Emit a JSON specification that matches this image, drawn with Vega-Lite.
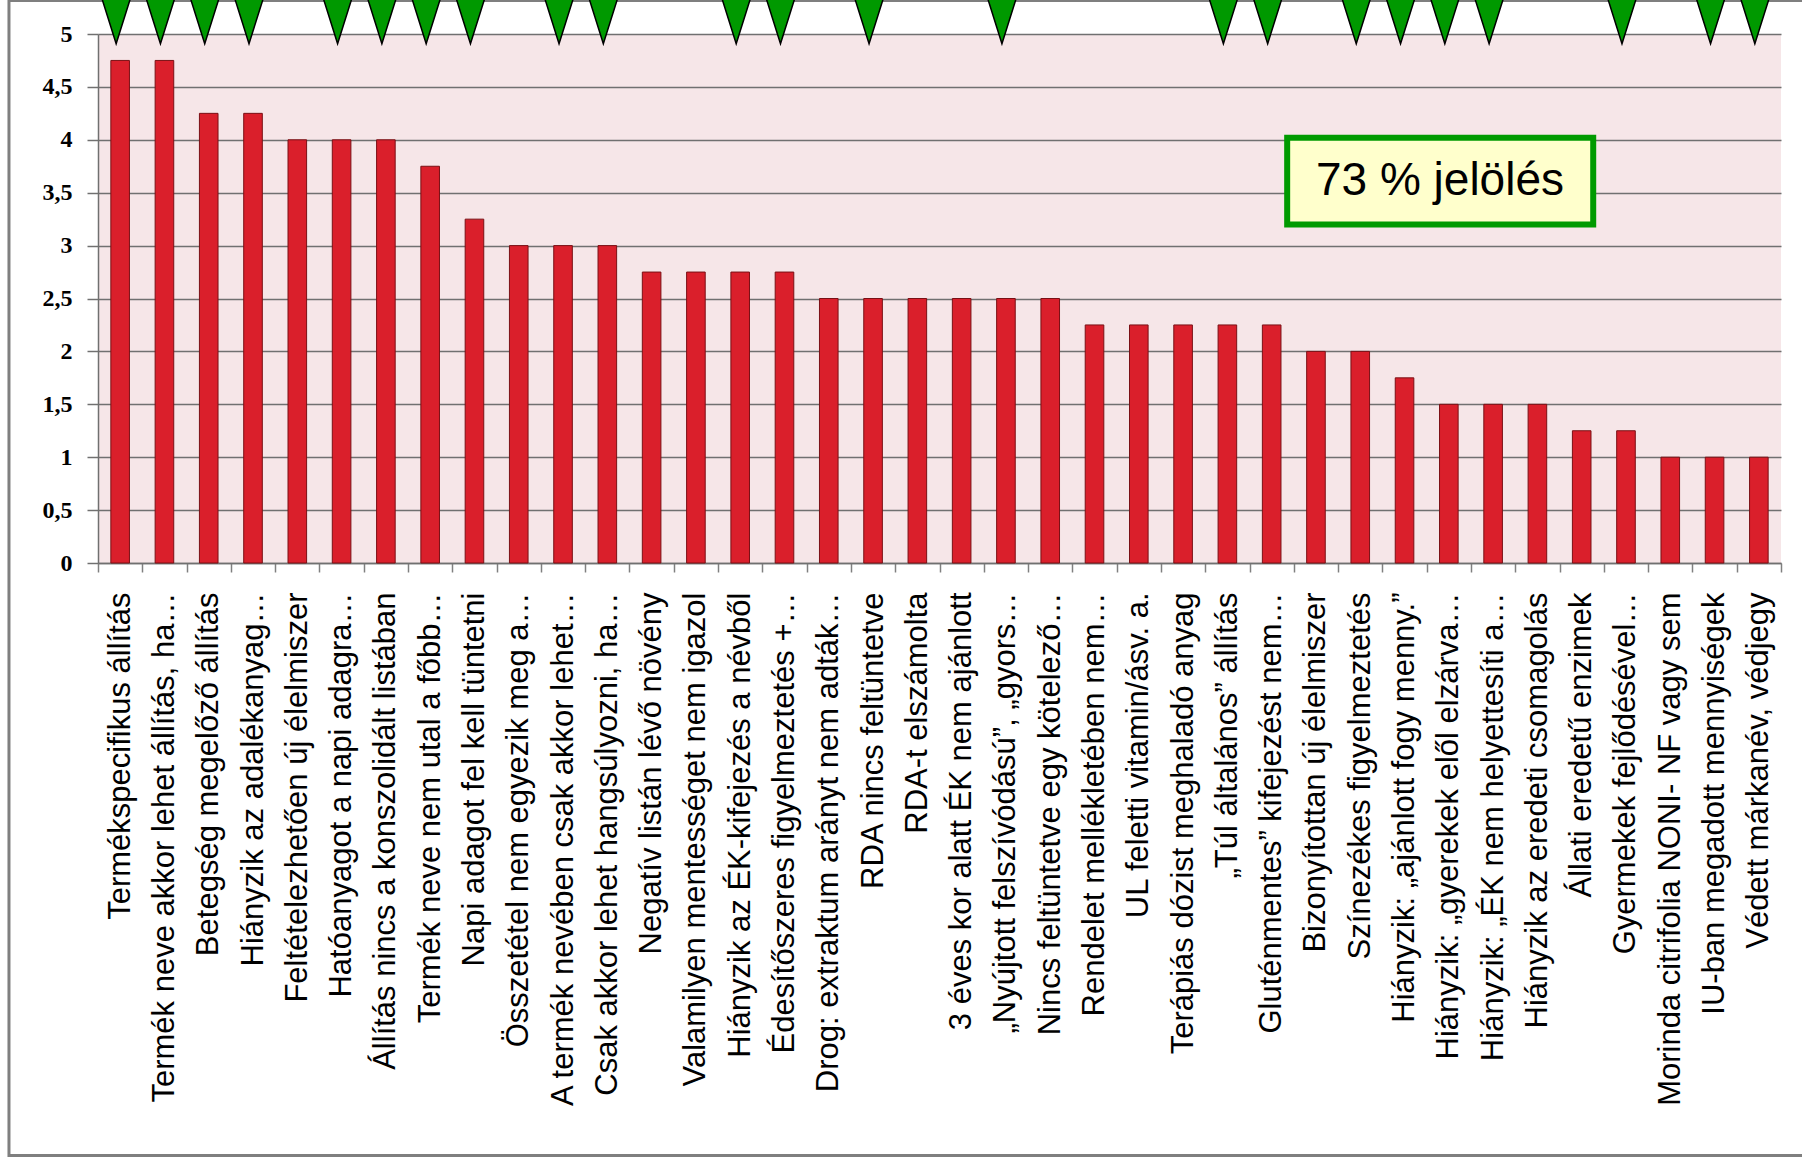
{
  "$schema": "https://vega.github.io/schema/vega-lite/v6.json",
  "width": 1683,
  "height": 529,
  "padding": {"left": 98, "top": 34, "right": 21, "bottom": 599},
  "autosize": {"type": "none"},
  "background": "#ffffff",
  "config": {"view": {"fill": "#F6E6E8", "stroke": null}},
  "datasets": {
    "rows": [
      {"label": "Termékspecifikus állítás", "value": 4.75, "marked": true},
      {"label": "Termék neve akkor lehet állítás, ha…", "value": 4.75, "marked": true},
      {"label": "Betegség megelőző állítás", "value": 4.25, "marked": true},
      {"label": "Hiányzik az adalékanyag…", "value": 4.25, "marked": true},
      {"label": "Feltételezhetően új élelmiszer", "value": 4, "marked": false},
      {"label": "Hatóanyagot a napi adagra…", "value": 4, "marked": true},
      {"label": "Állítás nincs a konszolidált listában", "value": 4, "marked": true},
      {"label": "Termék neve nem utal a főbb…", "value": 3.75, "marked": true},
      {"label": "Napi adagot fel kell tüntetni", "value": 3.25, "marked": true},
      {"label": "Összetétel nem egyezik meg a…", "value": 3, "marked": false},
      {"label": "A termék nevében csak akkor lehet…", "value": 3, "marked": true},
      {"label": "Csak akkor lehet hangsúlyozni, ha…", "value": 3, "marked": true},
      {"label": "Negatív listán lévő növény", "value": 2.75, "marked": false},
      {"label": "Valamilyen mentességet nem igazol", "value": 2.75, "marked": false},
      {"label": "Hiányzik az ÉK-kifejezés a névből", "value": 2.75, "marked": true},
      {"label": "Édesítőszeres figyelmeztetés +…", "value": 2.75, "marked": true},
      {"label": "Drog: extraktum arányt nem adták…", "value": 2.5, "marked": false},
      {"label": "RDA nincs feltüntetve", "value": 2.5, "marked": true},
      {"label": "RDA-t elszámolta", "value": 2.5, "marked": false},
      {"label": "3 éves kor alatt ÉK nem ajánlott", "value": 2.5, "marked": false},
      {"label": "„Nyújtott felszívódású”, „gyors…", "value": 2.5, "marked": true},
      {"label": "Nincs feltüntetve egy kötelező…", "value": 2.5, "marked": false},
      {"label": "Rendelet mellékletében nem…", "value": 2.25, "marked": false},
      {"label": "UL feletti vitamin/ásv. a.", "value": 2.25, "marked": false},
      {"label": "Terápiás dózist meghaladó anyag", "value": 2.25, "marked": false},
      {"label": "„Túl általános” állítás", "value": 2.25, "marked": true},
      {"label": "Gluténmentes” kifejezést nem…", "value": 2.25, "marked": true},
      {"label": "Bizonyítottan új élelmiszer", "value": 2, "marked": false},
      {"label": "Színezékes figyelmeztetés", "value": 2, "marked": true},
      {"label": "Hiányzik: „ajánlott fogy menny.”", "value": 1.75, "marked": true},
      {"label": "Hiányzik: „gyerekek elől elzárva…", "value": 1.5, "marked": true},
      {"label": "Hiányzik: „ÉK nem helyettesíti a…", "value": 1.5, "marked": true},
      {"label": "Hiányzik az eredeti csomagolás", "value": 1.5, "marked": false},
      {"label": "Állati eredetű enzimek", "value": 1.25, "marked": false},
      {"label": "Gyermekek fejlődésével…", "value": 1.25, "marked": true},
      {"label": "Morinda citrifolia NONI- NF vagy sem", "value": 1, "marked": false},
      {"label": "IU-ban megadott mennyiségek", "value": 1, "marked": true},
      {"label": "Védett márkanév, védjegy", "value": 1, "marked": true}
    ],
    "note": [{"note": "73 % jelölés"}]
  },
  "layer": [
    {
      "data": {"name": "note"},
      "mark": {"type": "rect", "filled": false, "stroke": "#7F7F7F", "strokeWidth": 3},
      "encoding": {
        "x": {"datum": -2.01, "type": "quantitative", "scale": {"domain": [0, 38], "nice": false, "zero": false}, "axis": null},
        "x2": {"datum": 38.65},
        "y": {"datum": 5.317, "type": "quantitative", "scale": {"domain": [0, 5], "nice": false, "zero": true}},
        "y2": {"datum": -5.6}
      }
    },
    {
      "data": {"name": "rows"},
      "encoding": {
        "x": {
          "field": "label", "type": "nominal", "sort": null,
          "scale": {"paddingInner": 0, "paddingOuter": 0},
          "axis": {
            "title": null, "labelAngle": -90, "labelFont": "Liberation Sans", "labelFontSize": 31,
            "labelColor": "#000000", "labelLimit": 700, "labelOverlap": false, "labelPadding": 20,
            "tickBand": "extent", "tickSize": 9, "tickColor": "#808080", "tickWidth": 1.5,
            "domainColor": "#707070", "domainWidth": 1.5
          }
        }
      },
      "layer": [
        {
          "mark": {"type": "bar", "width": {"band": 0.42}, "fill": "#DA1F2B", "stroke": "#7A1015", "strokeWidth": 1},
          "encoding": {
            "y": {
              "field": "value", "type": "quantitative",
              "scale": {"domain": [0, 5], "nice": false, "zero": true},
              "axis": {
                "title": null, "values": [0, 0.5, 1, 1.5, 2, 2.5, 3, 3.5, 4, 4.5, 5],
                "labelExpr": "replace(datum.value + '', '.', ',')",
                "labelFont": "Liberation Serif", "labelFontWeight": "bold", "labelFontSize": 24, "labelColor": "#000000",
                "labelPadding": 15, "tickSize": 11, "tickColor": "#707070", "tickWidth": 1.5,
                "grid": true, "gridColor": "#707070", "gridWidth": 1.5,
                "domainColor": "#707070", "domainWidth": 1.5
              }
            }
          }
        },
        {
          "transform": [{"filter": "datum.marked"}],
          "mark": {"type": "point", "shape": "M-0.63,-1L0.63,-1L0,1Z", "size": 2401, "filled": true, "fill": "#009900", "stroke": "#000000", "strokeWidth": 1.5, "opacity": 1, "fillOpacity": 1, "xOffset": -4},
          "encoding": {
            "y": {"datum": 5.14, "type": "quantitative"}
          }
        }
      ]
    },
    {
      "data": {"name": "note"},
      "encoding": {
        "x": {"datum": 26.85, "type": "quantitative", "scale": {"domain": [0, 38], "nice": false, "zero": false}, "axis": null}
      },
      "layer": [
        {
          "mark": {"type": "rect", "fill": "#FFFFCC", "stroke": "#009A00", "strokeWidth": 6},
          "encoding": {
            "x2": {"datum": 33.76},
            "y": {"datum": 4.02, "type": "quantitative"},
            "y2": {"datum": 3.2}
          }
        },
        {
          "mark": {"type": "text", "font": "Liberation Sans", "fontSize": 46, "align": "center", "baseline": "middle", "color": "#000000"},
          "encoding": {
            "x": {"datum": 30.3, "type": "quantitative", "scale": {"domain": [0, 38], "nice": false, "zero": false}, "axis": null},
            "y": {"datum": 3.61, "type": "quantitative"},
            "text": {"field": "note"}
          }
        }
      ]
    }
  ],
  "resolve": {"scale": {"x": "independent"}, "axis": {"x": "independent"}}
}
